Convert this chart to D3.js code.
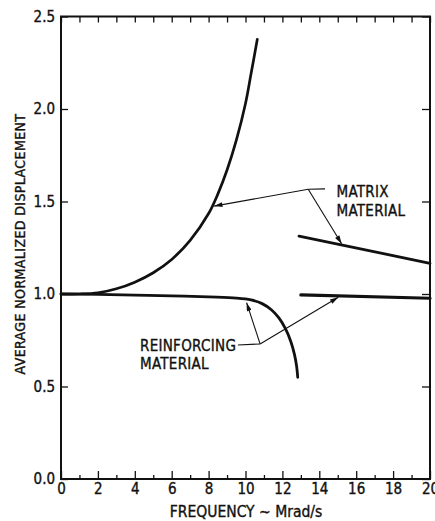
<!DOCTYPE html>
<html>
<head>
<meta charset="utf-8">
<script src="https://cdn.jsdelivr.net/npm/d3@7"></script>
<style>
  html, body { margin: 0; padding: 0; background: #fff; }
  svg { display: block; }
  text { font-family: "Liberation Sans Narrow", "DejaVu Sans Condensed", "Arial Narrow", sans-serif;
         fill: #111; stroke: #111; stroke-width: 0.35px; }
</style>
</head>
<body>
<svg id="chart" width="435" height="521"></svg>
<script>
// Average normalized displacement vs. frequency (Mrad/s)
const xTicksMajor = [0, 2, 4, 6, 8, 10, 12, 14, 16, 18, 20];
const xTicksMinor = [1, 3, 5, 7, 9, 11, 13, 15, 17, 19];
const yTicks = [0.0, 0.5, 1.0, 1.5, 2.0, 2.5];

// Matrix material, lower branch (rises toward resonance)
const matrixLowFreq = [0, 1, 2, 3, 4, 5, 6, 7, 8, 8.5, 9, 9.5, 10, 10.3, 10.64];
const matrixLowDisp = [1.0, 1.0, 1.006, 1.028, 1.064, 1.115, 1.187, 1.29, 1.435, 1.54, 1.67, 1.83, 2.03, 2.19, 2.377];

// Matrix material, upper branch (above the gap)
const matrixHighFreq = [12.9, 20];
const matrixHighDisp = [1.313, 1.166];

// Reinforcing material, lower branch (drops near cutoff)
const reinfLowFreq = [0, 2, 4, 6, 8, 9.5, 10.3, 10.9, 11.4, 11.8, 12.15, 12.45, 12.65, 12.77, 12.83];
const reinfLowDisp = [1.0, 0.998, 0.994, 0.99, 0.984, 0.978, 0.968, 0.948, 0.915, 0.872, 0.815, 0.745, 0.675, 0.61, 0.55];

// Reinforcing material, upper branch
const reinfHighFreq = [13.0, 20];
const reinfHighDisp = [0.995, 0.977];

const svg = d3.select("#chart");
const x = d3.scaleLinear().domain([0, 20]).range([61, 430]);
const y = d3.scaleLinear().domain([0, 2.5]).range([479, 16.5]);

const zip = (a, b) => a.map((v, i) => [v, b[i]]);
const line = d3.line().x(d => x(d[0])).y(d => y(d[1])).curve(d3.curveCatmullRom.alpha(0.5));

// Axes
svg.append("g").attr("transform", `translate(0,${y(0)})`)
  .call(d3.axisBottom(x).tickValues(xTicksMajor).tickFormat(d3.format("d"))
        .tickSizeInner(-8).tickSizeOuter(0).tickPadding(4))
  .call(g => g.selectAll("text").style("font-size", "15px"));
svg.append("g").attr("transform", `translate(0,${y(0)})`)
  .call(d3.axisBottom(x).tickValues(xTicksMinor).tickFormat("")
        .tickSizeInner(-4).tickSizeOuter(0));
svg.append("g").attr("transform", `translate(0,${y(2.5)})`)
  .call(d3.axisTop(x).tickValues(xTicksMajor.concat(xTicksMinor)).tickFormat("")
        .tickSizeInner(-6).tickSizeOuter(0));
svg.append("g").attr("transform", `translate(${x(0)},0)`)
  .call(d3.axisLeft(y).tickValues(yTicks).tickFormat(d3.format(".1f"))
        .tickSizeInner(-7).tickSizeOuter(0).tickPadding(6))
  .call(g => g.selectAll("text").style("font-size", "15px"));
svg.append("g").attr("transform", `translate(${x(20)},0)`)
  .call(d3.axisRight(y).tickValues(yTicks).tickFormat("")
        .tickSizeInner(-8).tickSizeOuter(0));

svg.selectAll(".domain").remove();
svg.selectAll(".tick line").attr("stroke", "#111").attr("stroke-width", 1.3);

// Frame
svg.append("rect")
  .attr("x", x(0)).attr("y", y(2.5))
  .attr("width", x(20) - x(0)).attr("height", y(0) - y(2.5))
  .attr("fill", "none").attr("stroke", "#111").attr("stroke-width", 2);

// Curves
const curves = [
  [zip(matrixLowFreq, matrixLowDisp), 2.7],
  [zip(matrixHighFreq, matrixHighDisp), 2.8],
  [zip(reinfLowFreq, reinfLowDisp), 2.8],
  [zip(reinfHighFreq, reinfHighDisp), 3.2]
];
svg.append("g").selectAll("path").data(curves).join("path")
  .attr("d", d => line(d[0]))
  .attr("fill", "none").attr("stroke", "#111")
  .attr("stroke-width", d => d[1]).attr("stroke-linecap", "round");

// Arrowhead
svg.append("defs").append("marker")
  .attr("id", "arrow").attr("viewBox", "0 0 10 6")
  .attr("refX", 10).attr("refY", 3)
  .attr("markerWidth", 10).attr("markerHeight", 5)
  .attr("markerUnits", "userSpaceOnUse").attr("orient", "auto")
  .append("path").attr("d", "M0,0 L10,3 L0,6 Z").attr("fill", "#111");

// Leader lines: [from, to] in data coordinates
const leaderLines = [
  // matrix
  { from: [14.31, 1.568], to: [13.40, 1.566], arrow: false },
  { from: [13.40, 1.566], to: [8.3, 1.475], arrow: true },
  { from: [13.40, 1.566], to: [15.21, 1.272], arrow: true },
  // reinforcing
  { from: [9.59, 0.724], to: [10.79, 0.73], arrow: false },
  { from: [10.79, 0.73], to: [10.06, 0.953], arrow: true },
  { from: [10.79, 0.73], to: [15.03, 0.982], arrow: true }
];
svg.append("g").selectAll("line").data(leaderLines).join("line")
  .attr("x1", d => x(d.from[0])).attr("y1", d => y(d.from[1]))
  .attr("x2", d => x(d.to[0])).attr("y2", d => y(d.to[1]))
  .attr("stroke", "#111").attr("stroke-width", 1.1)
  .attr("marker-end", d => d.arrow ? "url(#arrow)" : null);

// Callout labels
const callouts = [
  { lines: ["MATRIX", "MATERIAL"], at: [14.93, 1.524] },
  { lines: ["REINFORCING", "MATERIAL"], at: [4.28, 0.692] }
];
callouts.forEach(c => {
  const t = svg.append("text")
    .attr("x", x(c.at[0])).attr("y", y(c.at[1]))
    .style("font-size", "15px").style("letter-spacing", "0.3px");
  c.lines.forEach((s, i) => t.append("tspan")
    .attr("x", x(c.at[0])).attr("dy", i === 0 ? 0 : 18.5).text(s));
});

// Axis titles
svg.append("text")
  .attr("x", 246).attr("y", 517)
  .attr("text-anchor", "middle")
  .style("font-size", "15.5px")
  .text("FREQUENCY ~ Mrad/s");
svg.append("text")
  .attr("transform", "translate(25,244) rotate(-90)")
  .attr("text-anchor", "middle")
  .style("font-size", "14px").style("letter-spacing", "0.4px")
  .text("AVERAGE NORMALIZED DISPLACEMENT");
</script>
</body>
</html>
